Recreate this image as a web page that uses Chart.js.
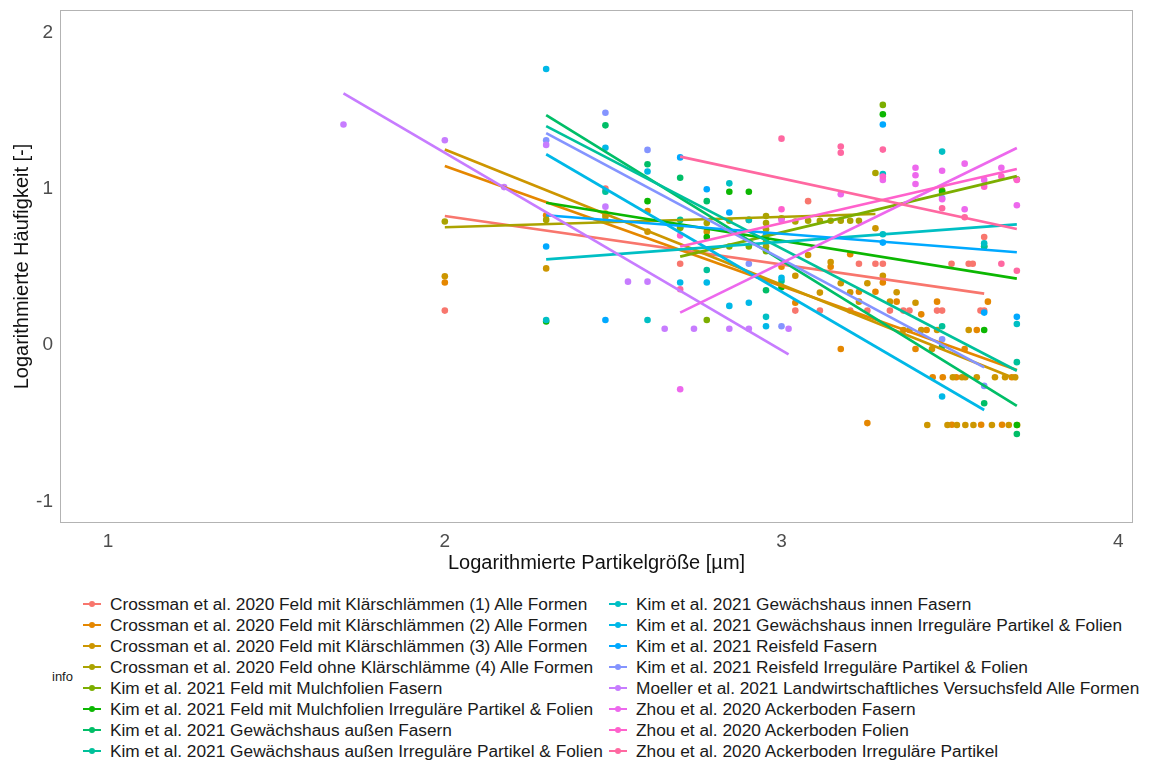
<!DOCTYPE html>
<html><head><meta charset="utf-8">
<script src="https://cdn.jsdelivr.net/npm/chart.js@4.4.1/dist/chart.umd.min.js"></script>
<style>
html,body{margin:0;padding:0;background:#fff;}
body{width:1154px;height:763px;position:relative;overflow:hidden;font-family:"Liberation Sans",Arial,sans-serif;}
#c{position:absolute;left:0;top:0;}
.item{position:absolute;height:21px;line-height:21px;font-size:17.3px;color:#1a1a1a;white-space:nowrap;}
.kline{position:absolute;height:2px;width:18px;}
.kdot{position:absolute;width:6px;height:6px;border-radius:50%;}
#info{position:absolute;left:52px;top:669px;font-size:13px;color:#1a1a1a;}
</style></head>
<body>
<canvas id="c" width="1154" height="590"></canvas>
<div id="info">info</div>
<div id="legend"></div>
<script>
// ---- tick labels ----
const xTicks = [1, 2, 3, 4];
const yTicks = [-1, 0, 1, 2];
const xTitle = 'Logarithmierte Partikelgröße [µm]';
const yTitle = 'Logarithmierte Häufigkeit [-]';

// ---- categories ----
const categories = [
  'Crossman et al. 2020 Feld mit Klärschlämmen (1) Alle Formen',
  'Crossman et al. 2020 Feld mit Klärschlämmen (2) Alle Formen',
  'Crossman et al. 2020 Feld mit Klärschlämmen (3) Alle Formen',
  'Crossman et al. 2020 Feld ohne Klärschlämme (4) Alle Formen',
  'Kim et al. 2021 Feld mit Mulchfolien Fasern',
  'Kim et al. 2021 Feld mit Mulchfolien Irreguläre Partikel & Folien',
  'Kim et al. 2021 Gewächshaus außen Fasern',
  'Kim et al. 2021 Gewächshaus außen Irreguläre Partikel & Folien',
  'Kim et al. 2021 Gewächshaus innen Fasern',
  'Kim et al. 2021 Gewächshaus innen Irreguläre Partikel & Folien',
  'Kim et al. 2021 Reisfeld Fasern',
  'Kim et al. 2021 Reisfeld Irreguläre Partikel & Folien',
  'Moeller et al. 2021 Landwirtschaftliches Versuchsfeld Alle Formen',
  'Zhou et al. 2020 Ackerboden Fasern',
  'Zhou et al. 2020 Ackerboden Folien',
  'Zhou et al. 2020 Ackerboden Irreguläre Partikel'
];

// ---- series values [log size, log frequency] ----
const crossman1 = [[2.000,0.22],[2.477,1.00],[2.699,0.52],[3.041,0.22],[3.079,0.92],[3.114,0.22],[3.204,0.22],[3.230,0.52],[3.255,0.22],[3.279,0.52],[3.301,0.52],[3.322,0.22],[3.362,0.22],[3.380,0.22],[3.462,0.22],[3.477,0.22],[3.505,0.52],[3.556,0.52],[3.568,0.52],[3.591,0.22],[3.602,0.22],[3.602,0.69]];
const crossman2 = [[2.000,0.40],[2.301,0.83],[2.602,0.857],[3.000,0.50],[3.041,0.27],[3.146,0.50],[3.176,-0.026],[3.204,0.58],[3.230,0.34],[3.255,-0.50],[3.279,0.34],[3.301,0.40],[3.342,0.277],[3.398,-0.026],[3.415,0.196],[3.431,0.096],[3.449,-0.207],[3.462,0.277],[3.479,-0.207],[3.506,-0.51],[3.519,-0.207],[3.544,-0.026],[3.580,0.096],[3.593,-0.51],[3.613,0.277],[3.655,-0.51],[3.684,-0.207]];
const crossman3 = [[2.000,0.44],[2.301,0.49],[2.477,0.82],[2.602,0.725],[2.778,0.725],[2.954,0.70],[3.041,0.443],[3.079,0.576],[3.114,0.335],[3.146,0.53],[3.176,0.395],[3.204,0.337],[3.230,0.277],[3.255,0.395],[3.279,0.747],[3.301,0.443],[3.322,0.277],[3.342,0.337],[3.362,0.096],[3.380,0.096],[3.398,0.27],[3.415,0.096],[3.433,-0.512],[3.447,-0.026],[3.462,0.096],[3.493,-0.512],[3.509,-0.207],[3.521,-0.512],[3.536,-0.207],[3.546,-0.512],[3.546,-0.207],[3.556,0.096],[3.570,-0.512],[3.580,-0.207],[3.625,-0.512],[3.634,-0.207],[3.664,-0.207],[3.675,-0.512],[3.694,-0.207],[3.700,-0.512]];
const crossman4 = [[2.000,0.79],[2.301,0.80],[2.477,0.84],[2.699,0.75],[2.778,0.78],[2.845,0.795],[2.903,0.80],[2.954,0.825],[2.954,0.78],[2.954,0.74],[2.954,0.70],[2.954,0.66],[2.954,0.63],[3.000,0.81],[3.041,0.79],[3.079,0.795],[3.114,0.795],[3.146,0.795],[3.176,0.795],[3.204,0.795],[3.230,0.795],[3.279,1.10]];
const kimMulchFasern = [[2.699,0.75],[2.778,0.16],[2.845,0.63],[2.903,0.63],[2.954,0.60],[3.301,1.536],[3.477,0.99],[3.602,0.63],[3.699,1.06]];
const kimMulchIrr = [[2.301,0.15],[2.602,0.92],[2.778,0.69],[2.845,0.98],[2.903,0.98],[3.000,0.37],[3.301,1.476],[3.477,0.98],[3.602,0.096],[3.699,-0.512]];
const kimAussenFasern = [[2.477,1.405],[2.602,1.156],[2.699,1.07],[2.778,0.92],[2.954,0.35],[3.477,-0.01],[3.602,-0.373],[3.699,-0.57]];
const kimAussenIrr = [[2.477,0.98],[2.699,0.80],[2.778,0.48],[3.000,0.41],[3.477,0.12],[3.602,0.63],[3.699,-0.11]];
const kimInnenFasern = [[2.301,0.16],[2.602,0.16],[2.845,1.034],[2.903,0.80],[2.954,0.18],[3.301,0.708],[3.301,1.094],[3.477,1.237],[3.602,0.65],[3.699,0.134]];
const kimInnenIrr = [[2.301,1.766],[2.477,1.262],[2.602,1.11],[2.699,0.40],[2.778,0.40],[2.845,0.25],[2.903,0.27],[2.954,0.12],[3.000,0.43],[3.477,-0.33]];
const kimReisFasern = [[2.301,0.63],[2.477,0.16],[2.699,1.20],[2.778,0.996],[2.845,0.847],[2.954,0.70],[3.301,1.41],[3.301,0.655],[3.602,0.207],[3.699,0.18]];
const kimReisIrr = [[2.301,1.31],[2.477,1.486],[2.602,1.248],[2.903,0.52],[3.000,0.12],[3.477,0.94],[3.477,0.036],[3.602,-0.262]];
const moeller = [[1.699,1.41],[2.000,1.31],[2.176,1.01],[2.301,1.28],[2.477,0.885],[2.544,0.405],[2.602,0.405],[2.653,0.104],[2.740,0.104],[2.845,0.104],[2.903,0.104],[3.021,0.104]];
const zhouFasern = [[2.699,-0.283],[3.000,0.80],[3.176,0.964],[3.301,1.056],[3.398,1.134],[3.398,1.086],[3.398,1.03],[3.477,1.115],[3.477,0.932],[3.544,1.16],[3.544,0.868],[3.602,1.056],[3.653,1.134],[3.699,0.894]];
const zhouFolien = [[2.699,0.70],[3.000,0.868],[3.301,1.077],[3.602,1.013],[3.653,1.077],[3.699,1.056]];
const zhouIrr = [[2.699,0.356],[3.000,1.32],[3.176,1.27],[3.176,1.23],[3.301,1.25],[3.477,0.875],[3.544,0.817],[3.653,0.52],[3.699,0.475]];

// ---- fitted regression lines ----
const fitStartX = [2.000,2.000,2.000,2.000,2.699,2.301,2.301,2.301,2.301,2.301,2.301,2.301,1.699,2.699,2.699,2.699];
const fitStartY = [0.825,1.145,1.250,0.753,0.565,0.910,1.470,1.400,0.548,1.220,0.830,1.355,1.610,0.207,0.630,1.205];
const fitEndX   = [3.602,3.699,3.699,3.279,3.699,3.699,3.699,3.699,3.699,3.602,3.699,3.602,3.021,3.699,3.699,3.699];
const fitEndY   = [0.328,-0.160,-0.220,0.838,1.080,0.424,-0.390,-0.165,0.772,-0.416,0.593,-0.143,-0.060,1.260,1.126,0.742];

// ---- style ----
const colors = ['#F8766D','#E58700','#CD9600','#ABA300','#7CAE00','#0CB702','#00BE67','#00C19A','#00BFC4','#00B8E7','#00A9FF','#8494FF','#C77CFF','#ED68ED','#FF61CC','#FF68A1'];
const seriesList = [crossman1,crossman2,crossman3,crossman4,kimMulchFasern,kimMulchIrr,kimAussenFasern,kimAussenIrr,kimInnenFasern,kimInnenIrr,kimReisFasern,kimReisIrr,moeller,zhouFasern,zhouFolien,zhouIrr];

const datasets = [];
seriesList.forEach((s, i) => {
  datasets.push({
    label: categories[i],
    data: s.map(p => ({x: p[0], y: p[1]})),
    showLine: false,
    pointRadius: 3.3,
    pointHoverRadius: 3.3,
    pointBorderWidth: 0,
    backgroundColor: colors[i],
    borderColor: colors[i],
    order: 100 - i
  });
});
categories.forEach((c, i) => {
  datasets.push({
    label: c + ' fit',
    data: [{x: fitStartX[i], y: fitStartY[i]}, {x: fitEndX[i], y: fitEndY[i]}],
    showLine: true,
    pointRadius: 0,
    borderWidth: 2.7,
    borderColor: colors[i],
    backgroundColor: colors[i],
    fill: false,
    order: 50 - i
  });
});

const panelBorder = {
  id: 'panelBorder',
  afterDraw(chart) {
    const a = chart.chartArea, g = chart.ctx;
    g.save();
    g.strokeStyle = '#b3b3b3';
    g.lineWidth = 1;
    g.strokeRect(Math.round(a.left) + 0.5, Math.round(a.top) + 0.5, Math.round(a.right - a.left) - 1, Math.round(a.bottom - a.top) - 1);
    g.restore();
  }
};

const FONT = '"Liberation Sans", Arial, sans-serif';
Chart.defaults.font.family = FONT;

new Chart(document.getElementById('c'), {
  type: 'scatter',
  data: { datasets },
  options: {
    responsive: false,
    animation: false,
    events: [],
    layout: { padding: { top: 10, right: 21, left: 0, bottom: 0 } },
    plugins: { legend: { display: false }, tooltip: { enabled: false } },
    scales: {
      x: {
        type: 'linear', min: 0.857, max: 4.044,
        border: { display: false },
        grid: { display: false, drawTicks: false },
        ticks: { padding: 7, font: { size: 19 }, color: '#4d4d4d', callback: v => String(v) },
        afterBuildTicks: s => { s.ticks = xTicks.map(v => ({ value: v })); },
        afterFit: s => { s.height = 67; s.paddingLeft = 0; s.paddingRight = 0; },
        title: { display: true, text: xTitle, font: { size: 20 }, color: '#111', padding: { top: 0, bottom: 15 } }
      },
      y: {
        type: 'linear', min: -1.139, max: 2.143,
        border: { display: false },
        grid: { display: false, drawTicks: false },
        ticks: { padding: 7, font: { size: 19 }, color: '#4d4d4d', callback: v => String(v) },
        afterBuildTicks: s => { s.ticks = yTicks.map(v => ({ value: v })); },
        afterFit: s => { s.width = 60; s.paddingTop = 0; s.paddingBottom = 0; },
        title: { display: true, text: yTitle, font: { size: 20 }, color: '#111', padding: { top: 10, bottom: 0 } }
      }
    }
  },
  plugins: [panelBorder]
});

// ---- legend (HTML, two columns) ----
const leg = document.getElementById('legend');
categories.forEach((c, i) => {
  const col = i < 8 ? 0 : 1;
  const row = i % 8;
  const textLeft = col === 0 ? 110 : 636;
  const cy = 604 + row * 21;
  const item = document.createElement('div');
  item.className = 'item';
  item.style.left = textLeft + 'px';
  item.style.top = (cy - 10.5) + 'px';
  item.textContent = c;
  leg.appendChild(item);
  const ln = document.createElement('div');
  ln.className = 'kline';
  ln.style.left = (textLeft - 27) + 'px';
  ln.style.top = (cy - 1) + 'px';
  ln.style.background = colors[i];
  leg.appendChild(ln);
  const dt = document.createElement('div');
  dt.className = 'kdot';
  dt.style.left = (textLeft - 21) + 'px';
  dt.style.top = (cy - 3) + 'px';
  dt.style.background = colors[i];
  leg.appendChild(dt);
});
</script>
</body></html>
